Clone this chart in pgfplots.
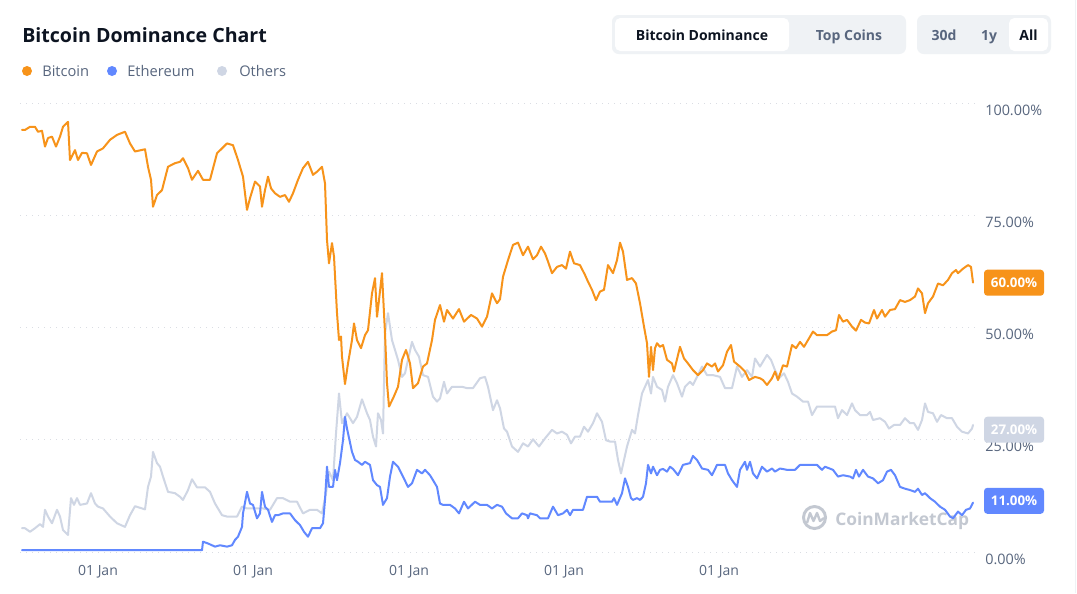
\documentclass[border=0pt]{standalone}
\usepackage{pgfplots}
\pgfplotsset{compat=1.18}
\usepackage{fontspec}
\setmainfont{Open Sans}
\definecolor{btc}{HTML}{F7931A}
\definecolor{eth}{HTML}{6188FF}
\definecolor{oth}{HTML}{CFD6E4}
\definecolor{txtgray}{HTML}{58667E}
\definecolor{dark}{HTML}{0D1421}
\definecolor{btnbg}{HTML}{EFF2F5}
\definecolor{gridc}{HTML}{DADDE3}
\definecolor{wm}{HTML}{C3C8D1}
\begin{document}
\begin{tikzpicture}
\begin{scope}[x=0.75pt,y=-0.75pt]
\path[use as bounding box, fill=white] (0,0) rectangle (1077,593);
\draw[btnbg, line width=0.75pt] (1075.5,0) -- (1075.5,593);
% title and legend
\node[anchor=base west, inner sep=0pt, text=dark, font=\fontsize{14.7}{17}\selectfont\bfseries] at (22,42) {Bitcoin Dominance Chart};
\fill[btc] (27,71) circle (5);
\fill[eth] (112,71) circle (5);
\fill[oth] (222,71) circle (5);
\node[anchor=base west, inner sep=0pt, text=txtgray, font=\fontsize{11}{13}\selectfont] at (42,76) {Bitcoin};
\node[anchor=base west, inner sep=0pt, text=txtgray, font=\fontsize{11}{13}\selectfont] at (127,76) {Ethereum};
\node[anchor=base west, inner sep=0pt, text=txtgray, font=\fontsize{11}{13}\selectfont] at (239,76) {Others};
% buttons
\fill[btnbg, rounded corners=5pt] (612,15) rectangle (906,54);
\fill[white, rounded corners=4pt] (615,18) rectangle (789,51);
\node[anchor=base, inner sep=0pt, text=dark, font=\fontsize{10.5}{12}\selectfont\bfseries] at (702,40) {Bitcoin Dominance};
\node[anchor=base, inner sep=0pt, text=txtgray, font=\fontsize{10.5}{12}\selectfont\bfseries] at (849,40) {Top Coins};
\fill[btnbg, rounded corners=5pt] (917,15) rectangle (1051,54);
\fill[white, rounded corners=4pt] (1009,18) rectangle (1048,51);
\node[anchor=base, inner sep=0pt, text=txtgray, font=\fontsize{10.5}{12}\selectfont\bfseries] at (944,40) {30d};
\node[anchor=base, inner sep=0pt, text=txtgray, font=\fontsize{10.5}{12}\selectfont\bfseries] at (989,40) {1y};
\node[anchor=base, inner sep=0pt, text=dark, font=\fontsize{10.5}{12}\selectfont\bfseries] at (1028.5,40) {All};
% watermark
\draw[wm, line width=2.2pt] (814.5,517.5) circle (11);
\draw[wm, line width=1.8pt, line join=round] (807,523) -- (810,513) -- (813.5,521) -- (817,513) -- (820,521) -- (824,518);
\node[anchor=base west, inner sep=0pt, text=wm, font=\fontsize{13}{15}\selectfont\bfseries] at (835,525) {CoinMarketCap};
\end{scope}
\begin{axis}[
  at={(15pt,-414pt)}, anchor=south west,
  scale only axis, width=716.25pt, height=336.75pt,
  xmin=20, xmax=975, ymin=0, ymax=100,
  axis line style={draw=none},
  tick style={draw=none},
  ytick={0,25,50,75,100},
  yticklabels={0.00\%,25.00\%,50.00\%,75.00\%,100.00\%},
  yticklabel pos=right,
  yticklabel style={anchor=west, inner sep=0pt, xshift=7.5pt, yshift=-5.25pt, text=txtgray, font=\fontsize{10.8}{12}\selectfont},
  xtick={98,253,409,564,719},
  xticklabels={01 Jan,01 Jan,01 Jan,01 Jan,01 Jan},
  xticklabel style={anchor=center, inner sep=0pt, yshift=-15pt, text=txtgray, font=\fontsize{10.5}{12}\selectfont},
  ymajorgrids, grid style={color=gridc, line width=0.6pt, dash pattern=on 0.75pt off 3.75pt},
  every axis plot/.append style={line width=1.5pt, line join=round, line cap=round, mark=none},
]
\addplot[oth] coordinates {
(22,5.3) (25,5.3) (30,4.5) (35,5.3) (40,6.2) (43,5.6) (45,9.4) (48,7.9) (52,6.4) (57,9.4) (60,7.9) (63,4.9) (68,3.8) (71,12.0) (74,10.5) (77,12.0) (80,10.5) (87,10.8) (91,13.1) (95,10.8) (98,10.1) (103,9.7) (110,7.9) (117,6.4) (125,5.6) (130,8.2) (135,10.2) (145,9.5) (148,14.5) (151,16.8) (153,22.3) (157,19.8) (160,19.0) (163,16.8) (168,13.4) (175,13.1) (180,12.3) (183,11.6) (188,13.8) (192,16.2) (197,14.4) (205,14.4) (210,13.4) (215,10.8) (222,8.2) (227,7.9) (237,7.9) (242,10.1) (247,9.7) (253,9.7) (263,9.7) (270,9.4) (277,12.0) (283,12.0) (290,11.2) (297,11.2) (303,8.6) (310,9.4) (317,9.4) (322,8.6) (326,13.1) (329,17.9) (333,16.0) (336,26.4) (339,35.3) (342,28.7) (347,30.9) (353,28.7) (357,30.1) (362,34.0) (367,30.9) (370,29.4) (373,25.7) (376,23.5) (378,30.9) (381,29.4) (383,26.4) (385,48.7) (388,53.2) (392,47.2) (395,45.0) (398,42.8) (402,39.0) (405,39.8) (408,42.8) (412,46.8) (415,45.0) (419,43.5) (423,39.4) (428,39.0) (433,34.6) (437,33.5) (440,34.2) (444,37.9) (447,35.3) (452,36.8) (457,36.8) (462,36.8) (467,36.5) (473,36.5) (480,38.7) (485,39.0) (488,36.8) (493,31.6) (497,33.8) (500,32.0) (504,27.5) (507,26.8) (512,23.5) (518,22.3) (523,24.2) (528,23.5) (533,25.1) (539,23.5) (545,25.3) (552,27.2) (557,26.4) (562,26.8) (567,26.1) (571,24.2) (575,25.7) (580,25.7) (584,27.9) (588,26.8) (593,28.7) (597,30.9) (602,29.0) (606,24.9) (610,24.6) (615,24.6) (618,20.5) (621,17.5) (624,20.5) (627,23.5) (632,27.2) (635,26.4) (638,30.5) (642,35.3) (645,36.8) (648,38.3) (651,35.3) (653,39.0) (657,36.8) (662,36.1) (665,33.5) (668,36.8) (673,39.4) (677,37.6) (682,34.6) (685,36.8) (690,37.9) (693,37.2) (697,39.0) (702,41.3) (707,39.4) (713,39.4) (720,39.0) (725,36.5) (732,36.5) (737,41.3) (742,39.0) (747,40.5) (752,39.0) (755,43.1) (760,41.3) (767,43.9) (771,42.8) (775,40.5) (779,38.7) (784,39.8) (788,37.9) (792,35.3) (797,34.6) (803,33.5) (808,33.5) (812,30.5) (817,32.4) (835,32.4) (838,29.8) (842,31.6) (847,30.5) (852,33.1) (855,31.6) (860,30.5) (867,30.5) (870,31.2) (873,29.4) (880,29.8) (885,29.0) (889,27.5) (894,28.3) (900,28.3) (905,29.8) (910,28.7) (914,28.7) (918,27.2) (922,29.4) (925,33.1) (928,31.2) (933,30.9) (937,29.0) (941,30.5) (947,29.8) (952,29.8) (957,27.9) (962,26.8) (968,26.4) (972,27.5) (973,28.3)
};
\addplot[eth] coordinates {
(22,0.4) (202,0.4) (203,2.3) (208,1.9) (215,1.2) (220,1.5) (227,1.2) (232,1.5) (235,2.7) (238,3.4) (242,5.6) (243,8.6) (247,13.4) (250,10.8) (253,10.5) (257,7.5) (260,8.6) (262,13.4) (265,10.1) (268,9.4) (272,6.7) (275,8.2) (278,8.2) (283,8.6) (290,8.6) (295,7.1) (300,6.0) (304,4.5) (308,3.4) (312,5.3) (320,5.3) (323,6.4) (325,11.6) (327,19.0) (329,14.5) (333,14.5) (335,18.3) (337,16.0) (340,19.8) (343,24.9) (345,30.1) (347,27.5) (352,22.3) (355,20.5) (358,20.1) (362,19.4) (365,20.1) (370,19.4) (373,16.0) (377,14.9) (380,14.5) (383,10.5) (387,12.0) (390,16.8) (393,20.1) (398,19.0) (403,16.8) (408,14.5) (412,15.3) (417,18.3) (422,17.5) (425,18.3) (430,17.1) (433,16.0) (437,14.5) (440,10.8) (443,10.5) (450,10.5) (455,9.7) (459,8.6) (464,11.2) (468,9.7) (475,11.2) (480,10.5) (487,10.5) (492,9.7) (497,10.5) (502,10.1) (506,8.6) (512,7.5) (518,7.5) (522,8.6) (527,8.2) (528,7.5) (530,8.6) (537,8.2) (540,7.5) (548,7.5) (553,10.1) (558,8.2) (563,8.6) (567,9.4) (570,8.2) (573,9.4) (583,9.4) (587,12.3) (597,12.3) (600,11.2) (612,11.2) (614,12.0) (617,10.5) (622,13.1) (625,16.4) (628,14.5) (631,12.0) (633,11.6) (637,12.0) (640,11.6) (643,12.3) (646,15.3) (648,19.4) (651,17.5) (653,19.0) (657,17.1) (660,18.3) (663,18.5) (667,17.9) (670,19.0) (673,18.5) (678,17.1) (683,19.4) (690,19.8) (693,21.4) (697,20.5) (702,18.6) (708,18.3) (712,17.1) (717,19.4) (725,19.4) (728,17.5) (732,16.0) (737,14.5) (740,18.3) (745,20.1) (747,18.3) (750,20.1) (753,17.5) (757,16.4) (762,19.0) (767,17.9) (772,18.6) (775,17.9) (780,18.6) (787,18.3) (795,18.3) (800,19.4) (817,19.4) (822,18.3) (825,19.0) (833,18.3) (838,16.8) (843,17.1) (850,16.8) (853,16.4) (856,18.3) (859,16.8) (863,18.3) (868,16.8) (873,16.4) (878,15.3) (883,16.0) (887,17.9) (891,18.3) (895,17.1) (900,14.5) (905,14.1) (910,13.8) (915,13.4) (918,14.1) (922,12.7) (925,13.1) (930,12.0) (935,11.2) (940,10.1) (945,9.4) (950,7.9) (953,7.5) (958,9.0) (962,8.2) (966,9.4) (970,9.7) (973,11.0)
};
\addplot[btc] coordinates {
(22,94.0) (25,94.0) (30,94.7) (35,94.7) (38,93.6) (42,93.8) (45,90.3) (48,92.2) (52,92.5) (56,90.3) (60,92.5) (63,94.7) (68,95.8) (70,87.3) (75,89.5) (78,87.3) (82,88.9) (87,88.8) (91,86.2) (97,89.2) (103,89.9) (110,91.8) (117,92.9) (125,93.6) (130,91.0) (135,89.2) (145,89.7) (148,85.8) (151,82.9) (153,76.9) (157,79.5) (162,80.6) (168,85.8) (175,86.6) (180,86.9) (183,87.7) (188,85.5) (192,82.9) (198,84.9) (203,82.9) (210,82.9) (217,88.8) (222,89.9) (227,91.0) (233,90.6) (238,87.3) (243,83.6) (247,76.2) (250,78.8) (255,82.5) (260,81.4) (262,76.9) (265,80.6) (268,83.6) (271,81.0) (275,79.9) (280,79.1) (285,79.5) (289,78.0) (293,79.9) (298,82.9) (303,85.5) (308,86.9) (313,84.0) (317,84.7) (322,85.8) (325,82.1) (327,69.5) (329,64.3) (332,68.8) (334,65.8) (337,53.2) (339,47.2) (341,48.0) (342,43.5) (345,37.4) (348,42.0) (352,47.2) (354,50.9) (357,47.2) (361,45.4) (365,48.3) (368,49.4) (372,57.6) (375,61.0) (377,52.4) (379,56.1) (382,62.1) (385,48.7) (387,37.6) (389,32.4) (393,34.2) (398,36.8) (402,42.8) (406,45.0) (410,42.0) (413,36.5) (418,37.6) (423,41.3) (427,42.0) (432,47.2) (435,51.7) (440,55.0) (444,51.3) (447,53.9) (453,52.0) (459,54.1) (464,51.3) (471,52.8) (477,52.0) (482,50.2) (487,52.4) (492,57.6) (497,55.4) (500,56.3) (503,61.3) (508,65.0) (513,68.4) (518,68.9) (523,66.1) (528,68.0) (533,65.2) (537,66.1) (541,68.0) (545,66.5) (548,64.7) (552,62.1) (557,63.5) (562,63.9) (566,63.1) (570,66.9) (574,64.3) (580,63.9) (585,61.7) (588,60.2) (592,58.4) (596,56.1) (600,58.0) (604,58.4) (608,63.9) (613,62.1) (617,65.0) (620,68.9) (623,66.9) (627,60.6) (632,61.0) (636,59.8) (640,55.4) (644,50.2) (647,46.5) (649,39.0) (651,45.7) (653,40.5) (655,45.4) (657,46.5) (660,45.7) (663,46.1) (667,42.8) (672,42.0) (674,40.2) (680,45.7) (684,43.1) (688,42.0) (693,40.5) (698,39.4) (703,40.5) (707,42.0) (712,41.3) (715,42.0) (718,40.2) (723,41.6) (727,44.6) (731,46.1) (734,42.4) (740,41.3) (745,40.2) (749,38.3) (755,39.0) (760,38.7) (763,38.3) (767,37.2) (772,38.7) (775,40.2) (778,38.3) (783,41.6) (787,41.3) (792,46.1) (796,45.4) (800,46.8) (804,45.7) (808,47.2) (813,49.1) (817,48.3) (827,48.3) (832,49.1) (836,49.4) (839,52.8) (843,51.3) (847,51.7) (852,50.2) (856,49.3) (861,51.7) (865,51.1) (869,50.9) (874,53.9) (877,52.0) (882,53.9) (885,52.4) (890,53.9) (895,54.1) (900,56.1) (905,55.7) (910,56.1) (915,56.9) (918,58.7) (922,57.6) (925,53.2) (928,55.4) (933,56.9) (938,59.8) (943,59.4) (948,60.6) (952,62.1) (956,62.8) (958,62.1) (963,63.1) (968,63.9) (971,63.5) (973,60.0)
};
\end{axis}
\begin{scope}[x=0.75pt,y=-0.75pt]
\node[fill=btc, rounded corners=2.5pt, text=white, font=\fontsize{10}{11}\selectfont\bfseries, minimum width=45pt, minimum height=19.5pt, inner sep=0pt] at (1014,282.7) {60.00\%};
\node[fill=oth, rounded corners=2.5pt, text=white, font=\fontsize{10}{11}\selectfont\bfseries, minimum width=45pt, minimum height=19.5pt, inner sep=0pt] at (1014,429.7) {27.00\%};
\node[fill=eth, rounded corners=2.5pt, text=white, font=\fontsize{10}{11}\selectfont\bfseries, minimum width=45pt, minimum height=19.5pt, inner sep=0pt] at (1014,500.8) {11.00\%};
\end{scope}
\end{tikzpicture}
\end{document}
